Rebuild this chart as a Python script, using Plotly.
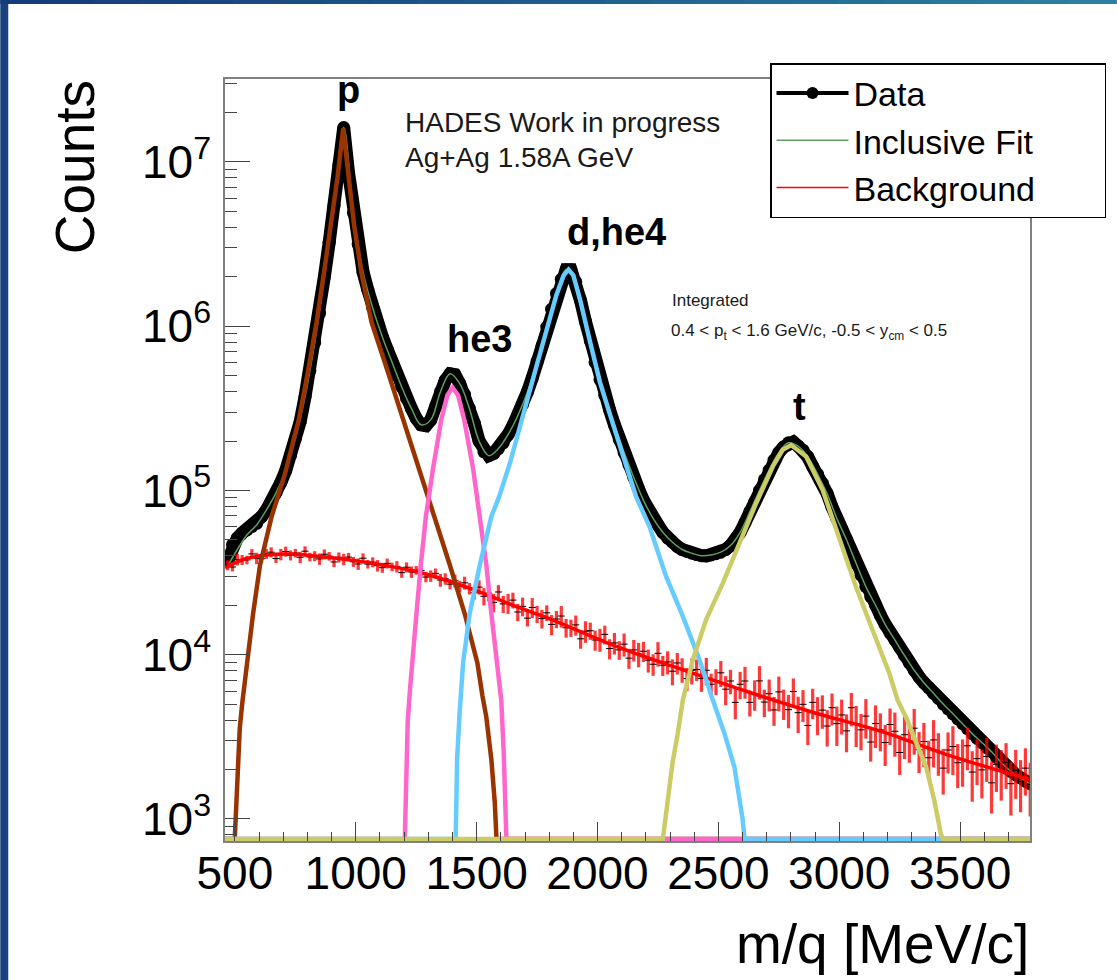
import numpy as np
import plotly.graph_objects as go

FONT = "Liberation Sans, Arial, Helvetica, sans-serif"

# ---------------- data ----------------
# histogram bin centres [MeV/c]
mq_bins = np.arange(470, 3791, 20)

# measured m/q spectrum (black points)
data_counts = [
    3.72e4, 4.68e4, 5.13e4, 5.50e4, 5.75e4, 6.03e4, 6.31e4, 6.92e4, 7.59e4, 8.51e4,
    9.66e4, 1.12e5, 1.32e5, 1.64e5, 2.07e5, 2.62e5, 3.72e5, 5.37e5, 7.94e5, 1.20e6,
    2.00e6, 3.24e6, 5.43e6, 9.60e6, 1.62e7, 8.60e6, 4.90e6, 3.16e6, 2.14e6, 1.66e6,
    1.29e6, 1.02e6, 8.61e5, 7.24e5, 6.03e5, 5.01e5, 4.27e5, 3.63e5, 3.16e5, 2.75e5,
    2.51e5, 2.48e5, 2.69e5, 3.24e5, 3.98e5, 4.68e5, 5.13e5, 5.07e5, 4.47e5, 3.85e5,
    3.16e5, 2.57e5, 2.00e5, 1.72e5, 1.63e5, 1.68e5, 1.80e5, 1.95e5, 2.19e5, 2.48e5,
    2.85e5, 3.35e5, 3.98e5, 4.84e5, 6.10e5, 7.59e5, 9.89e5, 1.27e6, 1.58e6, 1.93e6,
    2.21e6, 2.21e6, 1.86e6, 1.43e6, 1.07e6, 8.13e5, 6.03e5, 4.73e5, 3.80e5, 3.09e5,
    2.51e5, 2.04e5, 1.70e5, 1.43e5, 1.20e5, 1.02e5, 8.71e4, 7.50e4, 6.76e4, 6.17e4,
    5.56e4, 5.13e4, 4.84e4, 4.57e4, 4.37e4, 4.25e4, 4.15e4, 4.07e4, 4.01e4, 4.00e4,
    4.05e4, 4.12e4, 4.21e4, 4.37e4, 4.62e4, 4.95e4, 5.56e4, 6.38e4, 7.41e4, 8.51e4,
    1.00e5, 1.16e5, 1.33e5, 1.53e5, 1.70e5, 1.84e5, 1.95e5, 1.97e5, 1.86e5, 1.76e5,
    1.60e5, 1.40e5, 1.26e5, 1.11e5, 9.55e4, 7.94e4, 6.76e4, 5.82e4, 5.01e4, 4.27e4,
    3.59e4, 3.05e4, 2.60e4, 2.26e4, 2.00e4, 1.74e4, 1.53e4, 1.36e4, 1.23e4, 1.11e4,
    9.89e3, 8.91e3, 8.04e3, 7.33e3, 6.76e3, 6.31e3, 5.82e3, 5.43e3, 5.01e3, 4.68e3,
    4.37e3, 4.07e3, 3.80e3, 3.55e3, 3.31e3, 3.09e3, 2.92e3, 2.72e3, 2.57e3, 2.37e3,
    2.21e3, 2.04e3, 1.95e3, 1.86e3, 1.78e3, 1.70e3, 1.64e3,
]

# inclusive fit (thin green line)
fit_mq = np.arange(470, 3791, 40)
fit_counts = [
    3.47e4, 4.37e4, 5.37e4, 6.17e4, 7.59e4, 9.66e4, 1.32e5, 2.07e5, 3.72e5, 7.94e5,
    2.00e6, 5.43e6, 1.62e7, 4.90e6, 2.14e6, 1.29e6, 8.61e5, 6.03e5, 4.27e5, 3.16e5,
    2.51e5, 2.69e5, 3.98e5, 5.13e5, 4.47e5, 3.16e5, 2.00e5, 1.63e5, 1.80e5, 2.19e5,
    2.85e5, 3.98e5, 6.10e5, 9.89e5, 1.58e6, 2.21e6, 1.86e6, 1.07e6, 6.03e5, 3.80e5,
    2.51e5, 1.70e5, 1.20e5, 8.71e4, 6.76e4, 5.56e4, 4.84e4, 4.37e4, 4.15e4, 4.01e4,
    4.05e4, 4.21e4, 4.62e4, 5.56e4, 7.41e4, 1.00e5, 1.33e5, 1.70e5, 1.95e5, 1.86e5,
    1.60e5, 1.26e5, 9.55e4, 6.76e4, 5.01e4, 3.59e4, 2.60e4, 2.00e4, 1.53e4, 1.23e4,
    9.89e3, 8.04e3, 6.76e3, 5.82e3, 5.01e3, 4.37e3, 3.80e3, 3.31e3, 2.92e3, 2.57e3,
    2.21e3, 1.95e3, 1.78e3, 1.64e3,
]

# background histogram (red error bars)
bkg_counts = [
    3.51e4, 3.42e4, 3.80e4, 3.78e4, 3.78e4, 4.11e4, 3.87e4, 3.84e4, 4.12e4, 4.21e4,
    3.85e4, 4.08e4, 4.25e4, 4.03e4, 4.16e4, 3.92e4, 4.27e4, 3.94e4, 3.99e4, 3.83e4,
    4.09e4, 3.98e4, 3.67e4, 3.92e4, 3.81e4, 3.93e4, 3.68e4, 3.57e4, 3.87e4, 3.56e4,
    3.66e4, 3.49e4, 3.39e4, 3.60e4, 3.43e4, 3.44e4, 3.16e4, 3.41e4, 3.19e4, 3.27e4,
    3.26e4, 2.97e4, 3.02e4, 3.13e4, 2.85e4, 2.90e4, 2.69e4, 2.82e4, 2.61e4, 2.74e4,
    2.53e4, 2.38e4, 2.58e4, 2.27e4, 2.37e4, 2.08e4, 2.41e4, 2.04e4, 2.06e4, 2.15e4,
    1.82e4, 1.97e4, 1.67e4, 1.94e4, 1.77e4, 1.66e4, 1.80e4, 1.53e4, 1.65e4, 1.72e4,
    1.46e4, 1.46e4, 1.52e4, 1.25e4, 1.39e4, 1.40e4, 1.23e4, 1.24e4, 1.33e4, 1.09e4,
    1.18e4, 1.07e4, 1.16e4, 9.53e3, 1.07e4, 1.01e4, 1.05e4, 9.27e3, 8.75e3, 1.02e4,
    8.63e3, 9.04e3, 7.94e3, 8.91e3, 8.13e3, 7.16e3, 8.04e3, 8.13e3, 7.16e3, 8.04e3,
    6.61e3, 6.92e3, 7.76e3, 6.17e3, 6.92e3, 5.13e3, 6.61e3, 6.92e3, 5.13e3, 5.77e3,
    6.93e3, 5.15e3, 5.79e3, 4.61e3, 5.94e3, 5.07e3, 4.63e3, 5.97e3, 4.44e3, 4.99e3,
    3.71e3, 5.13e3, 4.38e3, 4.60e3, 3.68e3, 4.76e3, 3.81e3, 4.30e3, 3.44e3, 4.76e3,
    3.81e3, 3.49e3, 4.23e3, 2.94e3, 3.81e3, 3.49e3, 2.92e3, 3.76e3, 3.42e3, 2.54e3,
    3.26e3, 2.97e3, 3.57e3, 2.64e3, 2.96e3, 2.36e3, 3.03e3, 2.58e3, 2.04e3, 2.63e3,
    2.76e3, 2.20e3, 2.31e3, 2.79e3, 1.93e3, 2.33e3, 1.99e3, 2.40e3, 1.66e3, 2.15e3,
    1.96e3, 2.21e3, 1.64e3, 1.98e3, 1.69e3, 2.04e3, 1.62e3,
]
bkg_relerr = [
    .07, .06, .08, .07, .06, .07, .08, .06, .07, .07,
    .06, .08, .07, .07, .06, .08, .07, .06, .07, .08,
    .07, .06, .07, .07, .08, .06, .07, .08, .07, .06,
    .07, .08, .07, .07, .06, .08, .07, .07, .08, .06,
    .08, .07, .08, .07, .09, .08, .07, .09, .08, .09,
    .08, .09, .10, .12, .11, .13, .10, .12, .14, .11,
    .12, .13, .11, .14, .12, .13, .11, .14, .12, .15,
    .13, .12, .14, .13, .15, .12, .14, .16, .13, .14,
    .15, .13, .16, .14, .15, .17, .14, .16, .15, .17,
    .14, .16, .18, .15, .17, .16, .18, .15, .17, .19,
    .16, .18, .18, .20, .17, .21, .19, .22, .18, .21,
    .23, .19, .22, .20, .24, .21, .23, .20, .25, .22,
    .24, .21, .26, .23, .25, .22, .27, .24, .26, .23,
    .28, .25, .27, .24, .29, .26, .28, .25, .30, .27,
    .29, .26, .31, .28, .30, .27, .32, .29, .31, .28,
    .33, .30, .32, .29, .34, .31, .33, .30, .35, .32,
    .34, .31, .36, .33, .35, .32, .36,
]

# background fit (smooth red line)
bkg_fit_mq = [459, 535, 630, 730, 840, 975, 1110, 1250, 1390, 1525, 1665, 1800,
              2080, 2350, 2630, 2900, 3180, 3450, 3790]
bkg_fit_counts = [3.39e4, 3.80e4, 4.05e4, 4.10e4, 3.98e4, 3.78e4, 3.52e4, 3.21e4,
                  2.79e4, 2.37e4, 1.96e4, 1.66e4, 1.12e4, 8.13e3, 5.89e3, 4.42e3,
                  3.39e3, 2.45e3, 1.74e3]

# single-particle fit components (0 = function is zero there)
p_mq = [459, 498, 500, 503, 510, 520, 530, 545, 553, 575, 604, 652, 707, 765, 803,
        838, 868, 897, 925, 948, 968, 993, 1024, 1065, 1131, 1196, 1258, 1324, 1389,
        1451, 1503, 1524, 1540, 1561, 1575, 1582, 3789]
p_counts = [0, 0, 794, 1.0e3, 2.0e3, 3.55e3, 5.01e3, 7.94e3, 1.0e4, 1.77e4, 3.52e4,
            6.95e4, 1.26e5, 2.72e5, 5.37e5, 1.06e6, 2.09e6, 4.13e6, 8.18e6, 1.60e7,
            8.18e6, 4.13e6, 2.09e6, 1.06e6, 5.37e5, 2.72e5, 1.37e5, 6.95e4, 3.52e4,
            1.77e4, 8.91e3, 5.62e3, 4.17e3, 2.29e3, 1.26e3, 0, 0]

he3_mq = [459, 1203, 1204, 1208, 1215, 1225, 1237, 1251, 1269, 1290, 1320, 1354, 1379,
          1400, 1423, 1448, 1485, 1513, 1540, 1561, 1580, 1595, 1602, 1612, 1619, 1623,
          3789]
he3_counts = [0, 0, 891, 2.0e3, 3.98e3, 6.31e3, 9.55e3, 1.78e4, 3.52e4, 6.95e4, 1.37e5,
              2.72e5, 3.80e5, 4.23e5, 3.80e5, 2.72e5, 1.37e5, 6.95e4, 3.52e4, 1.77e4,
              1.05e4, 7.08e3, 5.25e3, 2.51e3, 1.26e3, 0, 0]

d_mq = [459, 1413, 1416, 1419, 1430, 1444, 1471, 1513, 1561, 1595, 1640, 1678, 1710,
        1750, 1790, 1830, 1860, 1880, 1900, 1930, 1970, 2010, 2050, 2080, 2119, 2160,
        2215, 2284, 2353, 2422, 2477, 2525, 2566, 2590, 2600, 2608, 3789]
d_counts = [0, 0, 1.26e3, 2.30e3, 4.54e3, 8.97e3, 1.77e4, 3.52e4, 6.95e4, 9.33e4,
            1.51e5, 2.37e5, 3.55e5, 5.89e5, 9.55e5, 1.55e6, 2.04e6, 2.21e6, 2.04e6,
            1.41e6, 7.94e5, 4.57e5, 2.95e5, 2.14e5, 1.40e5, 9.12e4, 6.03e4, 2.99e4,
            1.71e4, 9.29e3, 5.30e3, 3.32e3, 2.08e3, 1.30e3, 1.0e3, 0, 0]

t_mq = [459, 2270, 2273, 2291, 2311, 2332, 2353, 2394, 2449, 2518, 2587, 2656, 2725,
        2766, 2801, 2863, 2931, 3000, 3069, 3138, 3207, 3241, 3276, 3303, 3359, 3393,
        3420, 3430, 3789]
t_counts = [0, 0, 813, 1.30e3, 2.24e3, 3.32e3, 5.30e3, 9.29e3, 1.63e4, 2.72e4, 4.76e4,
            8.36e4, 1.40e5, 1.77e5, 1.89e5, 1.61e5, 1.01e5, 5.00e4, 2.59e4, 1.41e4,
            7.71e3, 5.30e3, 4.17e3, 3.32e3, 2.08e3, 1.30e3, 813, 0, 0]

peak_labels = ["p", "he3", "d,he4", "t"]
peak_label_mq = [971, 1513, 2079, 2835]
peak_label_log10 = [7.44, 5.922, 6.574, 5.508]

x_tick_vals = [500, 1000, 1500, 2000, 2500, 3000, 3500]
y_tick_vals = [1e3, 1e4, 1e5, 1e6, 1e7]
y_tick_text = ["10<sup>3</sup>", "10<sup>4</sup>", "10<sup>5</sup>", "10<sup>6</sup>", "10<sup>7</sup>"]
X_RANGE = [459, 3789]
Y_RANGE_LOG = [2.866, 7.505]

assert len(data_counts) == len(mq_bins) == len(bkg_counts) == len(bkg_relerr)
assert len(fit_counts) == len(fit_mq)
for a, b in [(p_mq, p_counts), (he3_mq, he3_counts), (d_mq, d_counts), (t_mq, t_counts),
             (bkg_fit_mq, bkg_fit_counts)]:
    assert len(a) == len(b)

# ---------------- layout geometry ----------------
W, H = 1117, 980
L, R, T, B = 225, 86, 79, 139
PW, PH = W - L - R, H - T - B


def xp(px):
    return (px - L) / PW


def yp(py):
    return (H - B - py) / PH


# ROOT draws functions that are zero along the bottom of the frame
floor = 10 ** (Y_RANGE_LOG[0] + 0.012)


def on_frame(v):
    return np.maximum(np.asarray(v, dtype=float), floor)


fig = go.Figure()

# measured data: dense black points
fig.add_trace(go.Scatter(
    x=mq_bins, y=data_counts, mode="lines+markers",
    line=dict(color="black", width=13), marker=dict(color="black", size=13),
    showlegend=False, legendgroup="data", name="Data", hoverinfo="x+y"))
fig.add_trace(go.Scatter(
    x=[None], y=[None], mode="lines+markers", name="Data", legendgroup="data",
    line=dict(color="black", width=4), marker=dict(color="black", size=12),
    legendrank=1))

# inclusive fit (legend text padded so the box matches the original width)
fig.add_trace(go.Scatter(
    x=fit_mq, y=fit_counts, mode="lines", line=dict(color="#5e9e5e", width=1.5, shape="spline"),
    name="Inclusive Fit" + "&nbsp;" * 7, legendrank=2))

# background histogram with errors
bkg_err = np.asarray(bkg_counts) * np.asarray(bkg_relerr)
fig.add_trace(go.Scatter(
    x=mq_bins, y=bkg_counts, mode="markers",
    marker=dict(symbol="line-ew", size=5, color="black", line=dict(color="black", width=1)),
    error_y=dict(type="data", array=bkg_err, color="rgba(255,0,0,0.78)", thickness=3.2, width=0),
    showlegend=False, legendgroup="bkg", name="Background"))
fig.add_trace(go.Scatter(
    x=bkg_fit_mq, y=bkg_fit_counts, mode="lines",
    line=dict(color="#ff0000", width=3.5, shape="spline"),
    showlegend=False, legendgroup="bkg", name="Background fit"))
fig.add_trace(go.Scatter(
    x=[None], y=[None], mode="lines", name="Background", legendgroup="bkg",
    line=dict(color="#ff0000", width=1.5), legendrank=3))

# components
for xs, ys, col, nm in [(p_mq, p_counts, "#993300", "p"),
                        (he3_mq, he3_counts, "#ff66cc", "he3"),
                        (d_mq, d_counts, "#66ccff", "d,he4"),
                        (t_mq, t_counts, "#cccc66", "t")]:
    fig.add_trace(go.Scatter(
        x=xs, y=on_frame(ys), mode="lines", line=dict(color=col, width=4.5),
        showlegend=False, name=nm))

annotations = []
for txt, mx, ly in zip(peak_labels, peak_label_mq, peak_label_log10):
    annotations.append(dict(x=mx, y=ly, xref="x", yref="y", text=txt, showarrow=False,
                            xanchor="center", yanchor="middle",
                            font=dict(family=FONT, size=38, color="black", weight="bold")))

annotations += [
    dict(x=xp(403), y=yp(122), xref="paper", yref="paper", text="HADES Work in progress",
         showarrow=False, xanchor="left", yanchor="middle",
         font=dict(family=FONT, size=28, color="#1a1a1a")),
    dict(x=xp(403), y=yp(157), xref="paper", yref="paper", text="Ag+Ag 1.58A GeV",
         showarrow=False, xanchor="left", yanchor="middle",
         font=dict(family=FONT, size=28, color="#1a1a1a")),
    dict(x=xp(671), y=yp(300), xref="paper", yref="paper", text="Integrated",
         showarrow=False, xanchor="left", yanchor="middle",
         font=dict(family=FONT, size=17, color="#1a1a1a")),
    dict(x=xp(670), y=yp(332), xref="paper", yref="paper",
         text="0.4 &lt; p<sub>t</sub> &lt; 1.6 GeV/c, -0.5 &lt; y<sub>cm</sub> &lt; 0.5",
         showarrow=False, xanchor="left", yanchor="middle",
         font=dict(family=FONT, size=17, color="#1a1a1a")),
    dict(x=xp(75), y=yp(167), xref="paper", yref="paper", text="Counts", textangle=-90,
         showarrow=False, xanchor="center", yanchor="middle",
         font=dict(family=FONT, size=55, color="black")),
    dict(x=xp(1032), y=yp(944), xref="paper", yref="paper", text="m/q [MeV/c]",
         showarrow=False, xanchor="right", yanchor="middle",
         font=dict(family=FONT, size=55, color="black")),
]

# slide decoration: blue border strips
shapes = [dict(type="rect", xref="paper", yref="paper", x0=xp(0), x1=xp(8), y0=yp(H), y1=yp(0),
               fillcolor="#17427f", line=dict(width=0), layer="above")]
c0, c1 = np.array([20, 60, 120]), np.array([44, 128, 162])
nseg = 24
for i in range(nseg):
    f = i / (nseg - 1)
    c = (c0 + (c1 - c0) * f).astype(int)
    shapes.append(dict(type="rect", xref="paper", yref="paper",
                       x0=xp(W * i / nseg), x1=xp(W * (i + 1) / nseg + 1), y0=yp(4), y1=yp(0),
                       fillcolor=f"rgb({c[0]},{c[1]},{c[2]})", line=dict(width=0), layer="above"))

x_minor = [v for v in range(600, 3789, 100) if v % 500]
y_minor = [k * 10 ** d for d in range(2, 8) for k in range(2, 10)
           if Y_RANGE_LOG[0] < np.log10(k * 10 ** d) < Y_RANGE_LOG[1]]

fig.update_layout(
    width=W, height=H, margin=dict(l=L, r=R, t=T, b=B, pad=0),
    paper_bgcolor="white", plot_bgcolor="white",
    font=dict(family=FONT, color="black"),
    showlegend=True,
    legend=dict(x=xp(770), y=yp(63), xanchor="left", yanchor="top",
                bgcolor="white", bordercolor="black", borderwidth=1.5,
                font=dict(family=FONT, size=34, color="black"),
                itemwidth=72, tracegroupgap=0, traceorder="normal"),
    xaxis=dict(range=X_RANGE, tickmode="array", tickvals=x_tick_vals,
               ticks="inside", ticklen=19, tickwidth=1, tickcolor="#444",
               showline=True, linecolor="#808080", linewidth=1.5, mirror=True,
               showgrid=False, zeroline=False, ticklabelstandoff=-9,
               tickfont=dict(family=FONT, size=46, color="black"),
               minor=dict(tickmode="array", tickvals=x_minor, ticks="inside", ticklen=9,
                          tickwidth=1, tickcolor="#444", showgrid=False)),
    yaxis=dict(type="log", range=Y_RANGE_LOG, tickmode="array", tickvals=y_tick_vals,
               ticktext=y_tick_text, ticks="inside", ticklen=25, tickwidth=1, tickcolor="#444",
               showline=True, linecolor="#808080", linewidth=1.5, mirror=True,
               showgrid=False, zeroline=False, ticklabelstandoff=3,
               tickfont=dict(family=FONT, size=46, color="black"),
               minor=dict(tickmode="array", tickvals=y_minor, ticks="inside", ticklen=12,
                          tickwidth=1, tickcolor="#444", showgrid=False)),
    annotations=annotations,
    shapes=shapes,
)

fig.write_html("out.html")
